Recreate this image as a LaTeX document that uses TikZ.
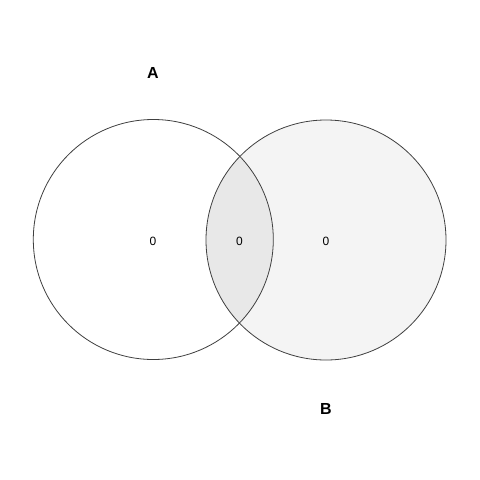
\documentclass[tikz,border=0pt]{standalone}
\usepackage{fontspec}
\setmainfont{Liberation Sans}
\begin{document}
\begin{tikzpicture}[x=1pt,y=-1pt,
  setcircle/.style={draw=black!75,line width=0.8pt},
  numlabel/.style={font=\fontsize{12}{14}\selectfont,inner sep=0pt},
  setlabel/.style={font=\fontsize{16}{18}\selectfont\bfseries,inner sep=0pt}]
\useasboundingbox[fill=white] (0,0) rectangle (480,480);
\fill[black!4.5] (326,240) circle (120);
\begin{scope}
  \clip (153.3,239.5) circle (120);
  \fill[black!9] (326,240) circle (120);
\end{scope}
\draw[setcircle] (153.3,239.5) circle (120);
\draw[setcircle] (326,240) circle (120);
\node[numlabel] (na) at (153,241) {0};
\node[numlabel] (nab) at (239.5,241) {0};
\node[numlabel] (nb) at (326,241) {0};
\node[setlabel] (la) at (153,73) {A};
\node[setlabel] (lb) at (326,409) {B};
\end{tikzpicture}
\end{document}
